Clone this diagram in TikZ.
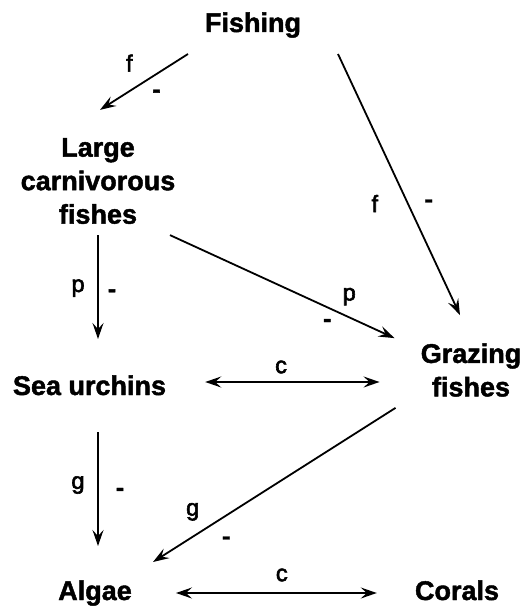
\documentclass[tikz,border=0pt]{standalone}
\usepackage{fontspec}
\setmainfont{Liberation Sans}[BoldFeatures={FakeBold=1.6}]
\newfontfamily\lblfont{Liberation Sans}[FakeBold=2.5]
\usetikzlibrary{arrows.meta}
\tikzset{
  species/.style={inner sep=0pt,font=\bfseries\fontsize{27}{33.5}\selectfont,
                  align=center},
  arr/.style={-{Stealth[length=16pt,width=11pt,inset=6pt]},line width=1.8pt},
  dblarr/.style={{Stealth[length=16pt,width=11pt,inset=6pt]}-{Stealth[length=16pt,width=11pt,inset=6pt]},
                 line width=1.8pt},
  lbl/.style={inner sep=0pt,font=\lblfont\fontsize{23.5}{23.5}\selectfont},
  minus/.style={lbl,font=\bfseries\fontsize{25}{25}\selectfont},
}
\begin{document}
\begin{tikzpicture}[x=1pt,y=-1pt]
  \useasboundingbox (0,0) rectangle (525,607);
  \node[species,anchor=base](fish)  at (253,32)  {Fishing};
  \node[species](lcf)               at (98,181)  {Large\\carnivorous\\fishes};
  \node[species,anchor=base](urch)  at (89.5,395) {Sea urchins};
  \node[species](graz)              at (471,370) {Grazing\\fishes};
  \node[species,anchor=base](alg)   at (95,600)  {Algae};
  \node[species,anchor=base](cor)   at (457,600) {Corals};

  % fishing
  \draw[arr]([shift={(-65,22)}]fish.base) -- ([shift={(2,-28)}]lcf.north)
    node[lbl,pos=.52,xshift=-13pt,yshift=20pt](f1){f}
    node[minus,pos=.46,xshift=9pt,yshift=-14pt](m1){-};
  \draw[arr]([shift={(85,22)}]fish.base) -- ([shift={(-11,-28)}]graz.north)
    node[lbl,pos=.5725,xshift=-33pt](f2){f}
    node[minus,pos=.5725,xshift=21pt](m2){-};
  % predation
  \draw[arr]([shift={(0,11)}]lcf.south) -- ([shift={(8.5,-56)}]urch.base)
    node[lbl,pos=.51,xshift=-20pt](p1){p}
    node[minus,pos=.56,xshift=14pt](m3){-};
  \draw[arr]([shift={(72,11)}]lcf.south) -- ([shift={(-26,-5)}]graz.north west)
    node[lbl,pos=.7625,xshift=8pt,yshift=17pt](p2){p}
    node[minus,pos=.7274,xshift=-6pt,yshift=-13pt](m4){-};
  % competition
  \draw[dblarr]([shift={(39,-13)}]urch.base east) -- ([shift={(-41,12)}]graz.west)
    node[lbl,pos=.435,yshift=15pt](c1){c};
  \draw[dblarr]([shift={(44,-7)}]alg.base east) -- ([shift={(-38,-7)}]cor.base west)
    node[lbl,pos=.527,yshift=18pt](c2){c};
  % grazing
  \draw[arr]([shift={(8.5,37)}]urch.base) -- ([shift={(3,-54)}]alg.base)
    node[lbl,pos=.465,xshift=-20pt](g1){g}
    node[minus,pos=.526,xshift=22pt](m5){-};
  \draw[arr]([shift={(-25,11)}]graz.south west) -- ([shift={(58,-38)}]alg.base)
    node[lbl,pos=.791,xshift=-11pt,yshift=18pt](g2){g}
    node[minus,pos=.7437,xshift=11pt,yshift=-18pt](m6){-};
\end{tikzpicture}
\end{document}
